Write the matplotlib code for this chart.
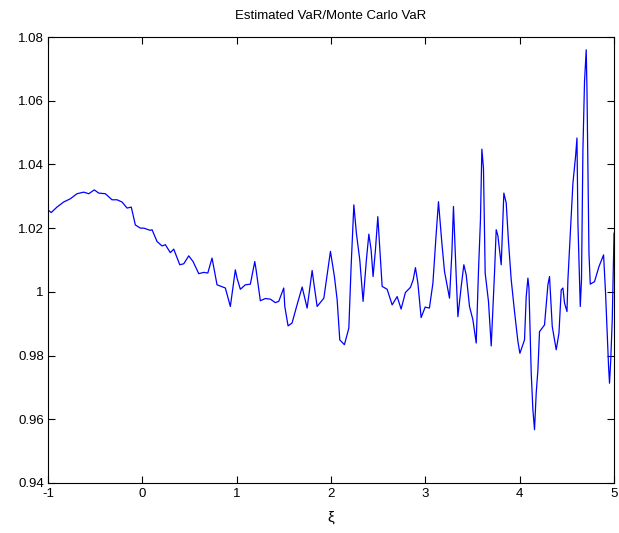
import matplotlib
matplotlib.use('Agg')
import matplotlib.pyplot as plt

# xi values and the ratio Estimated VaR / Monte Carlo VaR
xi = [-1.000, -0.965, -0.905, -0.834, -0.764, -0.692, -0.621, -0.568, -0.509, -0.462,
      -0.392, -0.321, -0.268, -0.215, -0.162, -0.117, -0.074, -0.021, 0.015, 0.085,
      0.103, 0.156, 0.209, 0.244, 0.297, 0.333, 0.397, 0.439, 0.492, 0.538,
      0.598, 0.651, 0.694, 0.739, 0.792, 0.880, 0.933, 0.986, 1.004, 1.039,
      1.092, 1.145, 1.192, 1.206, 1.251, 1.304, 1.357, 1.410, 1.446, 1.499,
      1.510, 1.545, 1.587, 1.640, 1.694, 1.747, 1.800, 1.818, 1.853, 1.924,
      1.994, 2.036, 2.065, 2.093, 2.142, 2.189, 2.213, 2.242, 2.269, 2.305,
      2.319, 2.340, 2.375, 2.401, 2.425, 2.446, 2.471, 2.496, 2.518, 2.542,
      2.595, 2.648, 2.701, 2.743, 2.789, 2.842, 2.871, 2.895, 2.921, 2.955,
      2.998, 3.043, 3.080, 3.114, 3.139, 3.175, 3.203, 3.239, 3.256, 3.281,
      3.298, 3.327, 3.345, 3.380, 3.408, 3.433, 3.468, 3.504, 3.539, 3.563,
      3.584, 3.599, 3.616, 3.634, 3.669, 3.698, 3.733, 3.751, 3.769, 3.790,
      3.804, 3.832, 3.857, 3.881, 3.910, 3.945, 3.981, 4.002, 4.051, 4.069,
      4.087, 4.098, 4.122, 4.140, 4.157, 4.175, 4.193, 4.210, 4.263, 4.299,
      4.316, 4.345, 4.387, 4.416, 4.440, 4.458, 4.475, 4.501, 4.511, 4.536,
      4.564, 4.592, 4.607, 4.617, 4.642, 4.655, 4.670, 4.687, 4.705, 4.713,
      4.734, 4.748, 4.793, 4.840, 4.889, 4.910, 4.928, 4.942, 4.952, 4.965,
      4.981, 5.000]
ratio = [1.0257, 1.0249, 1.0266, 1.0282, 1.0292, 1.0308, 1.0313, 1.0308, 1.0320, 1.0310,
         1.0308, 1.0289, 1.0289, 1.0282, 1.0263, 1.0266, 1.0210, 1.0200, 1.0200, 1.0193,
         1.0195, 1.0158, 1.0144, 1.0148, 1.0123, 1.0134, 1.0085, 1.0088, 1.0113, 1.0095,
         1.0057, 1.0061, 1.0059, 1.0106, 1.0022, 1.0012, 0.9954, 1.0069, 1.0043, 1.0008,
         1.0022, 1.0024, 1.0095, 1.0069, 0.9972, 0.9979, 0.9977, 0.9966, 0.9970, 1.0012,
         0.9954, 0.9893, 0.9902, 0.9959, 1.0015, 0.9949, 1.0067, 1.0027, 0.9954, 0.9980,
         1.0127, 1.0048, 0.9975, 0.9849, 0.9834, 0.9886, 1.0079, 1.0273, 1.0184, 1.0100,
         1.0048, 0.9970, 1.0100, 1.0181, 1.0132, 1.0048, 1.0132, 1.0236, 1.0132, 1.0017,
         1.0008, 0.9959, 0.9985, 0.9946, 0.9998, 1.0014, 1.0038, 1.0076, 1.0027, 0.9919,
         0.9952, 0.9949, 1.0027, 1.0179, 1.0283, 1.0153, 1.0064, 1.0006, 0.9980, 1.0122,
         1.0268, 1.0048, 0.9922, 1.0017, 1.0085, 1.0053, 0.9954, 0.9912, 0.9839, 1.0064,
         1.0226, 1.0448, 1.0388, 1.0059, 0.9970, 0.9830, 1.0059, 1.0195, 1.0176, 1.0122,
         1.0085, 1.0310, 1.0279, 1.0158, 1.0038, 0.9938, 0.9844, 0.9807, 0.9849, 0.9985,
         1.0043, 1.0012, 0.9745, 0.9629, 0.9567, 0.9682, 0.9755, 0.9875, 0.9896, 1.0022,
         1.0048, 0.9891, 0.9818, 0.9870, 1.0006, 1.0012, 0.9965, 0.9938, 1.0038, 1.0184,
         1.0341, 1.0425, 1.0483, 1.0216, 0.9954, 1.0038, 1.0446, 1.0660, 1.0760, 1.0634,
         1.0122, 1.0024, 1.0032, 1.0079, 1.0116, 0.9996, 0.9870, 0.9765, 0.9713, 0.9786,
         0.9912, 1.0184]

xticks = [-1, 0, 1, 2, 3, 4, 5]
xtick_labels = ['-1', '0', '1', '2', '3', '4', '5']
yticks = [0.94, 0.96, 0.98, 1.00, 1.02, 1.04, 1.06, 1.08]
ytick_labels = ['0.94', '0.96', '0.98', '1', '1.02', '1.04', '1.06', '1.08']

plt.rcParams['font.family'] = ['Liberation Sans', 'DejaVu Sans']
plt.rcParams['axes.unicode_minus'] = False

fig = plt.figure(figsize=(6.19, 5.33), dpi=100)
fig.patch.set_facecolor('white')
ax = fig.add_axes([0.0775, 0.094, 0.9145, 0.8365])

ax.plot(xi, ratio, color='#0000ff', lw=0.9)

ax.set_xlim(-1, 5)
ax.set_ylim(0.94, 1.08)
ax.set_xticks(xticks)
ax.set_xticklabels(xtick_labels)
ax.set_yticks(yticks)
ax.set_yticklabels(ytick_labels)
ax.tick_params(direction='in', top=True, right=True, length=5, width=0.8,
               labelsize=9.5, pad=4, colors='black')
ax.tick_params(axis='y', pad=3)
for s in ax.spines.values():
    s.set_linewidth(0.8)
    s.set_color('black')

ax.set_title('Estimated VaR/Monte Carlo VaR', fontsize=9.5, pad=13)
ax.set_xlabel('ξ', fontsize=11, labelpad=7)

plt.savefig('out.png', dpi=100, facecolor='white')
plt.close()
